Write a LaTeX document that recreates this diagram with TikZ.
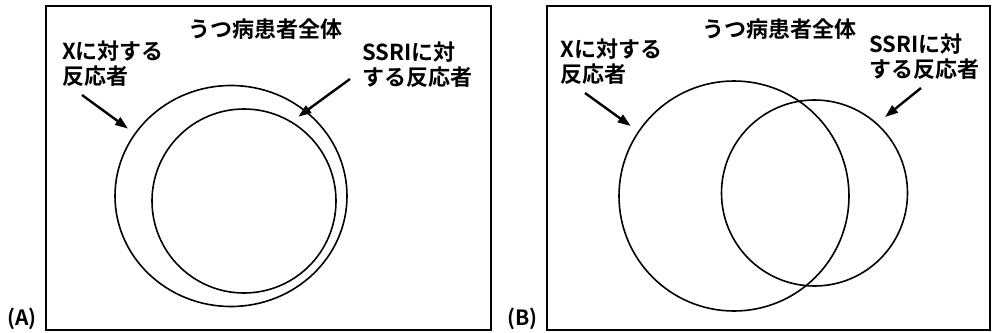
\documentclass[tikz,border=0pt]{standalone}
\usepackage{fontspec}
\setmainfont{Noto Sans CJK JP}[BoldFont={Noto Sans CJK JP Bold}]
\usetikzlibrary{arrows.meta,shapes.geometric}
\tikzset{
  panel/.style={draw, line width=1.8pt},
  venn/.style={draw, circle, line width=1.6pt, inner sep=0pt},
  lbl/.style={inner sep=0pt, align=left, font=\fontsize{22}{25}\selectfont\bfseries},
  ttl/.style={inner sep=0pt, font=\fontsize{22}{25}\selectfont\bfseries},
  tag/.style={inner sep=0pt, font=\fontsize{21}{22}\selectfont\bfseries},
  pointer/.style={-{Triangle[length=13pt,width=9pt]}, line width=2.4pt},
}
\begin{document}
\begin{tikzpicture}[x=1pt,y=-1pt]
\useasboundingbox (0,0) rectangle (993,332);
% ---------- Panel A ----------
\node[panel, minimum width=445pt, minimum height=324pt, anchor=north west] (boxA) at (45,5) {};
\node[tag, anchor=south west] (tagA) at (7,330) {(A)};
\node[ttl] (ttlA) at (265,29) {うつ病患者全体};
\node[lbl, anchor=north west] (xA) at (62,41) {Xに対する\\反応者};
\node[lbl, anchor=north west] (sA) at (362,42) {SSRIに対\\する反応者};
\node[venn, ellipse, minimum width=232pt, minimum height=221pt] (outA) at (231,196) {};
\node[venn, minimum size=184pt] (inA) at (244,201) {};
\coordinate (xAs) at (82,95);
\coordinate (sAs) at (350,79);
\draw[pointer, shorten >=8pt] (xAs) -- (outA.147);
\draw[pointer, shorten >=8pt] (sAs) -- (inA.59);
% ---------- Panel B ----------
\node[panel, minimum width=443pt, minimum height=324pt, anchor=north west] (boxB) at (546,5) {};
\node[tag, anchor=south west] (tagB) at (507,330) {(B)};
\node[ttl] (ttlB) at (779,29) {うつ病患者全体};
\node[lbl, anchor=north west] (xB) at (560,39) {Xに対する\\反応者};
\node[lbl, anchor=north west] (sB) at (869,34) {SSRIに対\\する反応者};
\node[venn, minimum size=230pt] (cX) at (734,196) {};
\node[venn, minimum size=186pt] (cS) at (814.5,193) {};
\coordinate (xBs) at (585,93);
\coordinate (sBs) at (921,88);
\draw[pointer, shorten >=9pt] (xBs) -- (cX.146);
\draw[pointer, shorten >=10pt] (sBs) -- (cS.48);
\end{tikzpicture}
\end{document}
